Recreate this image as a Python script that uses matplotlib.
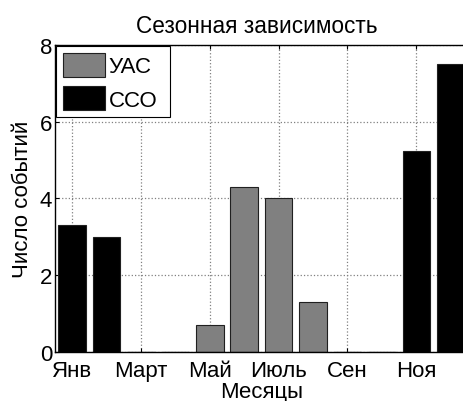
import matplotlib
matplotlib.use("Agg")
import matplotlib.pyplot as plt
import numpy as np

plt.rcParams['font.family'] = ['Liberation Sans', 'DejaVu Sans']

months = np.arange(1, 13)
uas = [0, 0, 0, 0, 0.7, 4.3, 4.0, 1.3, 0, 0, 0, 0]
cco = [3.3, 3.0, 0, 0, 0, 0, 0, 0, 0, 0, 5.25, 7.5]
tick_pos = [1, 3, 5, 7, 9, 11]
tick_labels = ['Янв', 'Март', 'Май', 'Июль', 'Сен', 'Ноя']

fig = plt.figure(figsize=(4.64, 4.02), dpi=100)
ax = fig.add_axes([0.1185, 0.1219, 0.89, 0.7637])

ax.bar(months, uas, width=0.8, color='#808080', edgecolor='#202020', linewidth=0.8, label='УАС')
ax.bar(months, cco, width=0.8, color='black', edgecolor='#202020', linewidth=0.8, label='ССО')

ax.set_xlim(0.5, 12.5)
ax.set_ylim(0, 8)
ax.set_xticks(tick_pos)
ax.set_xticklabels(tick_labels)
ax.set_yticks([0, 2, 4, 6, 8])
ax.tick_params(direction='in', length=3, labelsize=16, top=True, right=True)
ax.tick_params(axis='x', pad=5.5)
ax.tick_params(axis='y', pad=2)
ax.set_axisbelow(True)
ax.grid(True, linestyle=':', color='#808080', linewidth=0.9)
for s in ax.spines.values():
    s.set_linewidth(1.0)

ax.set_xlabel('Месяцы', fontsize=16, labelpad=0)
ax.set_ylabel('Число событий', fontsize=16, labelpad=5)
ax.set_title('Сезонная зависимость', fontsize=16.3, pad=9, x=0.488)

leg = ax.legend(loc='upper left', bbox_to_anchor=(0.003, 0.0, 0.275, 0.997),
                mode='expand', borderaxespad=0, fontsize=16, frameon=True,
                fancybox=False, edgecolor='black', framealpha=1,
                handlelength=1.9, handleheight=1.3, handletextpad=0.15,
                labelspacing=0.4, borderpad=0.3)
leg.get_frame().set_linewidth(0.8)

fig.savefig('out.png', dpi=100)
